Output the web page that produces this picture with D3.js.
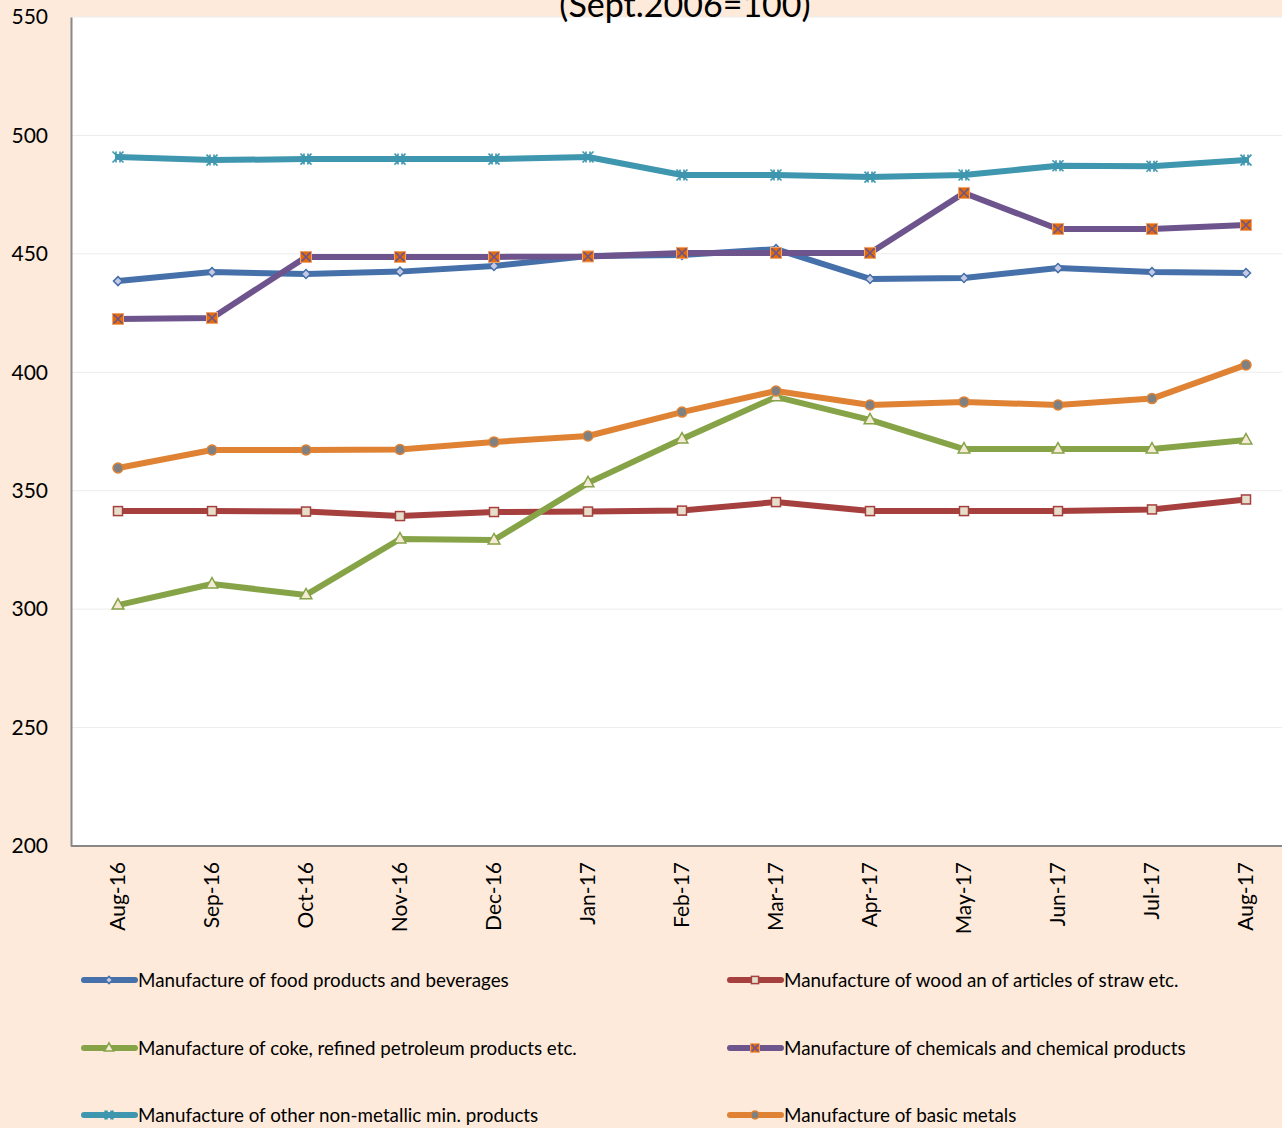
<!DOCTYPE html>
<html><head><meta charset="utf-8">
<script src="https://cdn.jsdelivr.net/npm/d3@7"></script>
<style>html,body{margin:0;padding:0;background:#FDEADA;overflow:hidden}svg{display:block}</style>
</head><body><svg id="c" width="1282" height="1128"></svg>
<script>
const months = ["Aug-16","Sep-16","Oct-16","Nov-16","Dec-16","Jan-17","Feb-17","Mar-17","Apr-17","May-17","Jun-17","Jul-17","Aug-17"];
const yTicks = [200,250,300,350,400,450,500,550];
const food = [438.5,442.3,441.5,442.5,444.9,449.1,449.5,452.0,439.4,439.8,444.0,442.3,441.9];
const wood = [341.4,341.4,341.2,339.3,341.0,341.2,341.6,345.2,341.4,341.4,341.4,342.1,346.3];
const coke = [301.7,310.6,306.0,329.6,329.2,353.3,371.8,389.6,379.9,367.6,367.6,367.6,371.4];
const chem = [422.5,422.9,448.7,448.7,448.7,448.9,450.4,450.4,450.4,475.7,460.5,460.5,462.2];
const nonmet = [490.9,489.6,490.0,490.0,490.0,490.9,483.3,483.3,482.4,483.3,487.2,487.0,489.6];
const metals = [359.6,367.2,367.2,367.4,370.6,373.1,383.2,392.1,386.2,387.5,386.2,388.9,403.1];
const seriesNames = ["Manufacture of food products and beverages","Manufacture of wood an of articles of straw etc.","Manufacture of coke, refined petroleum products etc.","Manufacture of chemicals and chemical products","Manufacture of other non-metallic min. products","Manufacture of basic metals"];
const titleText = "(Sept.2006=100)";

const series = [
  {name:seriesNames[0], values:food, color:"#4570A9", marker:"diamond"},
  {name:seriesNames[1], values:wood, color:"#A5403E", marker:"square"},
  {name:seriesNames[2], values:coke, color:"#86A447", marker:"triangle"},
  {name:seriesNames[3], values:chem, color:"#6E548D", marker:"xsquare"},
  {name:seriesNames[4], values:nonmet, color:"#3E96AF", marker:"star"},
  {name:seriesNames[5], values:metals, color:"#DF8233", marker:"circle"}
];

const svg = d3.select("#c");
const FONT = "Lato, 'Open Sans', sans-serif";
const L = 71, T = 17, B = 846, R = 1293;
const x = d3.scaleBand().domain(months).range([L, R]);
const y = d3.scaleLinear().domain([200,550]).range([B, T]);
const cx = d => x(d) + x.bandwidth()/2;

// plot area
svg.append("rect").attr("x", L).attr("y", T).attr("width", 1282-L).attr("height", B-T).attr("fill", "#fff");

// gridlines
svg.append("g").selectAll("line").data(yTicks.filter(t => t > 200)).join("line")
  .attr("x1", L).attr("x2", 1282).attr("y1", d => y(d)).attr("y2", d => y(d))
  .attr("stroke", "#ececec").attr("stroke-width", 1);

// title
svg.append("text").attr("x", 685).attr("y", 17).attr("text-anchor", "middle")
  .attr("font-family", FONT).attr("font-size", 34).attr("fill", "#000").text(titleText);

// y axis
const yAxis = svg.append("g").attr("transform", `translate(${L},0)`)
  .call(d3.axisLeft(y).tickValues(yTicks).tickSize(0).tickPadding(23));
yAxis.select(".domain").attr("stroke", "#888").attr("stroke-width", 2);
yAxis.selectAll("text").attr("font-family", FONT).attr("font-size", 21).attr("fill", "#000");

// x axis
const xAxis = svg.append("g").attr("transform", `translate(0,${B})`)
  .call(d3.axisBottom(x).tickSize(0));
xAxis.select(".domain").attr("stroke", "#888").attr("stroke-width", 2).attr("d", `M${L},0H1282`);
xAxis.selectAll("text").attr("font-family", FONT).attr("font-size", 21).attr("fill", "#000")
  .attr("transform", "rotate(-90)").attr("text-anchor", "end").attr("dx", "-16").attr("dy", "0.35em").attr("y", 0).attr("x", 0);

function drawMarker(g, type, color, px, py, s) {
  s = s || 1;
  if (type === "diamond") {
    const r = 4.5*s;
    g.append("path").attr("d", `M${px},${py-r}L${px+r},${py}L${px},${py+r}L${px-r},${py}Z`)
      .attr("fill", "#C6C9E4").attr("stroke", color).attr("stroke-width", 1.5);
  } else if (type === "square") {
    const r = 4.5*s;
    g.append("rect").attr("x", px-r).attr("y", py-r).attr("width", 2*r).attr("height", 2*r)
      .attr("fill", "#E6DECB").attr("stroke", color).attr("stroke-width", 1.5);
  } else if (type === "triangle") {
    const r = 6.5*s;
    g.append("path").attr("d", `M${px},${py-r}L${px+r*0.9},${py+r*0.6}L${px-r*0.9},${py+r*0.6}Z`)
      .attr("fill", "#F4EAD6").attr("stroke", color).attr("stroke-width", 1.5);
  } else if (type === "xsquare") {
    const r = 5.5*s;
    g.append("rect").attr("x", px-r).attr("y", py-r).attr("width", 2*r).attr("height", 2*r)
      .attr("fill", "#E36C0A").attr("stroke", "#F2A46A").attr("stroke-width", 1);
    g.append("path").attr("d", `M${px-r+1},${py-r+1}L${px+r-1},${py+r-1}M${px+r-1},${py-r+1}L${px-r+1},${py+r-1}`)
      .attr("stroke", color).attr("stroke-width", 1.6);
  } else if (type === "star") {
    const r = 5.5*s;
    g.append("path").attr("d", `M${px-r},${py-r}L${px+r},${py+r}M${px+r},${py-r}L${px-r},${py+r}M${px-2},${py-r}V${py+r}M${px+2},${py-r}V${py+r}`)
      .attr("stroke", color).attr("stroke-width", 1.6);
  } else if (type === "circle") {
    g.append("circle").attr("cx", px).attr("cy", py).attr("r", 5*s)
      .attr("fill", "#808080").attr("stroke", color).attr("stroke-width", 1.5);
  }
}

// lines
const line = d3.line().x((d,i) => cx(months[i])).y(d => y(d));
const drawOrder = [1,2,5,0,3,4];
drawOrder.forEach(k => {
  const s = series[k];
  svg.append("path").datum(s.values).attr("d", line)
    .attr("fill", "none").attr("stroke", s.color).attr("stroke-width", 6)
    .attr("stroke-linejoin", "round").attr("stroke-linecap", "round");
});
drawOrder.forEach(k => {
  const s = series[k];
  const g = svg.append("g");
  s.values.forEach((v,i) => drawMarker(g, s.marker, s.color, cx(months[i]), y(v)));
});

// legend
const legX = [84, 730], legY = [980, 1048, 1115];
series.forEach((s, i) => {
  const col = i % 2, row = Math.floor(i/2);
  const lx = legX[col], ly = legY[row];
  const g = svg.append("g");
  g.append("line").attr("x1", lx).attr("x2", lx+51).attr("y1", ly).attr("y2", ly)
    .attr("stroke", s.color).attr("stroke-width", 6).attr("stroke-linecap", "round");
  drawMarker(g, s.marker, s.color, lx+25, ly, 0.8);
  g.append("text").attr("x", lx+54).attr("y", ly).attr("dy", "0.35em")
    .attr("font-family", FONT).attr("font-size", 18.8).attr("fill", "#000").text(s.name);
});
</script></body></html>
